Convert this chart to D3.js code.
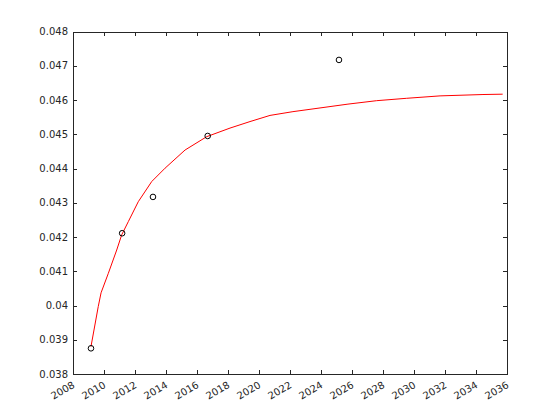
<!DOCTYPE html>
<html>
<head>
<meta charset="utf-8">
<script src="https://cdn.jsdelivr.net/npm/d3@7"></script>
<style>
html,body{margin:0;padding:0;background:#fff;}
svg{display:block;}
text{font-family:"DejaVu Sans",sans-serif;font-size:10px;fill:#262626;}
.domain,.tick line{shape-rendering:crispEdges;}
</style>
</head>
<body>
<svg id="chart" width="560" height="420"></svg>
<script>
// Data
const pointYears = [2009.16, 2011.17, 2013.16, 2016.69, 2025.16];
const pointValues = [0.03875, 0.04211, 0.04317, 0.04495, 0.04717];

const curveYears = [2009.16, 2009.63, 2009.81, 2010.28, 2010.82, 2011.14, 2011.57, 2012.21, 2013.08, 2013.94,
  2015.23, 2016.63, 2018.13, 2019.42, 2020.71, 2022.19, 2024.13, 2025.74, 2027.59, 2029.53, 2031.68, 2034.45, 2035.72];
const curveValues = [0.03880, 0.03997, 0.04037, 0.04094, 0.04162, 0.04206, 0.04245, 0.04303, 0.04362, 0.04401,
  0.04454, 0.04493, 0.04518, 0.04537, 0.04555, 0.04566, 0.04578, 0.04588, 0.04598, 0.04605, 0.04612, 0.04616, 0.04617];

const xTicks = [2008, 2010, 2012, 2014, 2016, 2018, 2020, 2022, 2024, 2026, 2028, 2030, 2032, 2034, 2036];
const yTicks = [0.038, 0.039, 0.04, 0.041, 0.042, 0.043, 0.044, 0.045, 0.046, 0.047, 0.048];
const yTickLabels = ["0.038", "0.039", "0.04", "0.041", "0.042", "0.043", "0.044", "0.045", "0.046", "0.047", "0.048"];

const svg = d3.select("#chart");
const mLeft = 73, mRight = 507, mTop = 31.5, mBottom = 374;
const x = d3.scaleLinear().domain([2008, 2036]).range([mLeft, mRight]);
const y = d3.scaleLinear().domain([0.038, 0.048]).range([mBottom, mTop]);
const axisColor = "#262626";
const tickLen = 4.3;

// Curve
const line = d3.line().x((d, i) => x(curveYears[i])).y((d, i) => y(curveValues[i]));
svg.append("path")
  .attr("d", line(curveYears))
  .attr("fill", "none")
  .attr("stroke", "#ff0000")
  .attr("stroke-width", 1);

// Points
svg.append("g").selectAll("circle")
  .data(pointYears)
  .join("circle")
  .attr("cx", (d) => x(d))
  .attr("cy", (d, i) => y(pointValues[i]))
  .attr("r", 2.8)
  .attr("fill", "none")
  .attr("stroke", "#000")
  .attr("stroke-width", 1);

// Axes: bottom
const gx = svg.append("g").attr("transform", `translate(0,${mBottom})`)
  .call(d3.axisBottom(x).tickValues(xTicks).tickFormat(d3.format("d")).tickSizeInner(-tickLen).tickSizeOuter(0));
gx.select(".domain").attr("stroke", axisColor);
gx.selectAll(".tick line").attr("stroke", axisColor);
gx.selectAll(".tick text")
  .attr("fill", axisColor)
  .attr("font-family", "DejaVu Sans")
  .attr("font-size", 10)
  .attr("text-anchor", "end")
  .attr("x", 0).attr("y", 0).attr("dy", 0)
  .attr("transform", "translate(2,13) rotate(-30)");

// top
const gt = svg.append("g").attr("transform", `translate(0,${mTop})`)
  .call(d3.axisTop(x).tickValues(xTicks).tickFormat("").tickSizeInner(-tickLen).tickSizeOuter(0));
gt.select(".domain").attr("stroke", axisColor);
gt.selectAll(".tick line").attr("stroke", axisColor);

// left
const gy = svg.append("g").attr("transform", `translate(${mLeft},0)`)
  .call(d3.axisLeft(y).tickValues(yTicks).tickFormat((d, i) => yTickLabels[i]).tickSizeInner(-tickLen).tickSizeOuter(0).tickPadding(5));
gy.select(".domain").attr("stroke", axisColor);
gy.selectAll(".tick line").attr("stroke", axisColor);
gy.selectAll(".tick text").attr("fill", axisColor).attr("font-family", "DejaVu Sans").attr("font-size", 10);

// right
const gr = svg.append("g").attr("transform", `translate(${mRight},0)`)
  .call(d3.axisRight(y).tickValues(yTicks).tickFormat("").tickSizeInner(-tickLen).tickSizeOuter(0));
gr.select(".domain").attr("stroke", axisColor);
gr.selectAll(".tick line").attr("stroke", axisColor);
</script>
</body>
</html>
